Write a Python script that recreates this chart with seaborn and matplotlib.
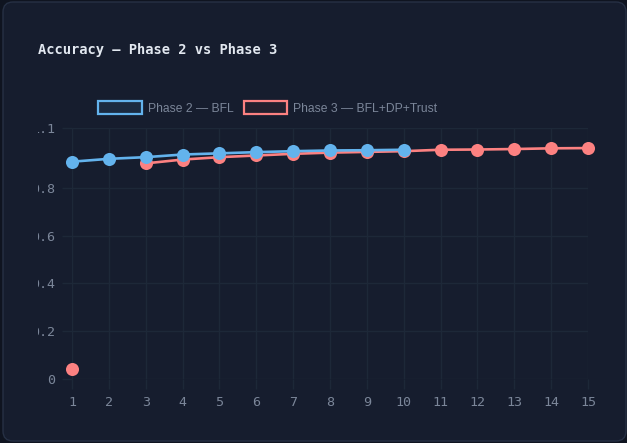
import numpy as np
import pandas as pd
import matplotlib
matplotlib.use("Agg")
import matplotlib.pyplot as plt
import seaborn as sns
from matplotlib.patches import FancyBboxPatch, Patch
from matplotlib.transforms import Bbox, TransformedBbox

# data
rounds = list(range(1, 16))
phase2_acc = [0.909, 0.921, 0.928, 0.939, 0.944, 0.949, 0.953, 0.956, 0.957, 0.959,
              None, None, None, None, None]
phase3_acc = [0.042, None, 0.902, 0.918, 0.928, 0.935, 0.942, 0.947, 0.950, 0.953,
              0.959, 0.960, 0.962, 0.965, 0.966]
y_ticks = [0, 0.2, 0.4, 0.6, 0.8, 1.05]
y_labels = ["0", "0.2", "0.4", "0.6", "0.8", "1.1"]
series_names = ["Phase 2 — BFL", "Phase 3 — BFL+DP+Trust"]

BG_OUT = "#0f1420"
BG_CARD = "#161d2e"
BORDER = "#263044"
GRID = "#1d2838"
TICK_TXT = "#7b8699"
BLUE = "#63b3ed"
RED = "#fc8181"

sns.set_theme(style="dark")
plt.rcParams["font.family"] = ["DejaVu Sans Mono", "DejaVu Sans"]

W, H = 627, 443
fig = plt.figure(figsize=(W / 100, H / 100), dpi=100, facecolor=BG_OUT)

card = FancyBboxPatch((3 / W, 1 - 441 / H), 623 / W, 439 / H,
                      boxstyle="round,pad=0,rounding_size=0.016",
                      transform=fig.transFigure, facecolor=BG_CARD,
                      edgecolor=BORDER, linewidth=1.0, mutation_aspect=W / H,
                      zorder=-5)
fig.patches.append(card)

fig.text(38 / W, 1 - 50 / H, "Accuracy — Phase 2 vs Phase 3", color="#e2e8f0",
         fontsize=9.9, fontweight="bold", va="center", ha="left")

ax = fig.add_axes([72 / W, 1 - 379 / H, 516 / W, 251 / H])
ax.set_facecolor("none")


def segments(xs, ys):
    seg = []
    for x, y in zip(xs, ys):
        if y is None:
            if seg:
                yield seg
            seg = []
        else:
            seg.append((x, y))
    if seg:
        yield seg


# red first so blue sits on top
for vals, color in [(phase3_acc, RED), (phase2_acc, BLUE)]:
    for seg in segments(rounds, vals):
        df = pd.DataFrame(seg, columns=["round", "acc"])
        if len(df) > 1:
            sns.lineplot(data=df, x="round", y="acc", ax=ax, color=color,
                         linewidth=1.9, marker="o", markersize=9.4,
                         markeredgewidth=0, zorder=3, clip_on=False)
        else:
            sns.scatterplot(data=df, x="round", y="acc", ax=ax, color=color,
                            s=88, linewidth=0, zorder=3, clip_on=False)

ax.set_xlim(1, 15)
ax.set_ylim(0, 1.05)
ax.set_xticks(rounds)
ax.set_xticklabels([str(r) for r in rounds])
ax.set_yticks(y_ticks)
ax.set_yticklabels(y_labels)
ax.set_xlabel("")
ax.set_ylabel("")
ax.grid(True, color=GRID, linewidth=1.0)
for s in ax.spines.values():
    s.set_visible(False)
ax.tick_params(axis="both", colors=GRID, labelcolor=TICK_TXT, labelsize=9.6,
               length=7, width=1.0, pad=5, bottom=True, left=True)

# y labels are cut off at the left in the reference
clip = TransformedBbox(Bbox.from_extents(38 / W, 0, 1, 1), fig.transFigure)
for lab in ax.get_yticklabels():
    lab.set_clip_on(True)
    lab.set_clip_box(clip)

handles = [Patch(facecolor="#1b2a40", edgecolor=BLUE, linewidth=1.6),
           Patch(facecolor="#23202e", edgecolor=RED, linewidth=1.6)]
fig.legend(handles, series_names, loc="center", bbox_to_anchor=(268 / W, 1 - 108 / H),
           ncol=2, frameon=False, handlelength=3.6, handleheight=1.3,
           handletextpad=0.5, columnspacing=0.85,
           prop={"family": "Liberation Sans", "size": 8.7}, labelcolor=TICK_TXT)

fig.savefig("out.png", dpi=100, facecolor=BG_OUT)
